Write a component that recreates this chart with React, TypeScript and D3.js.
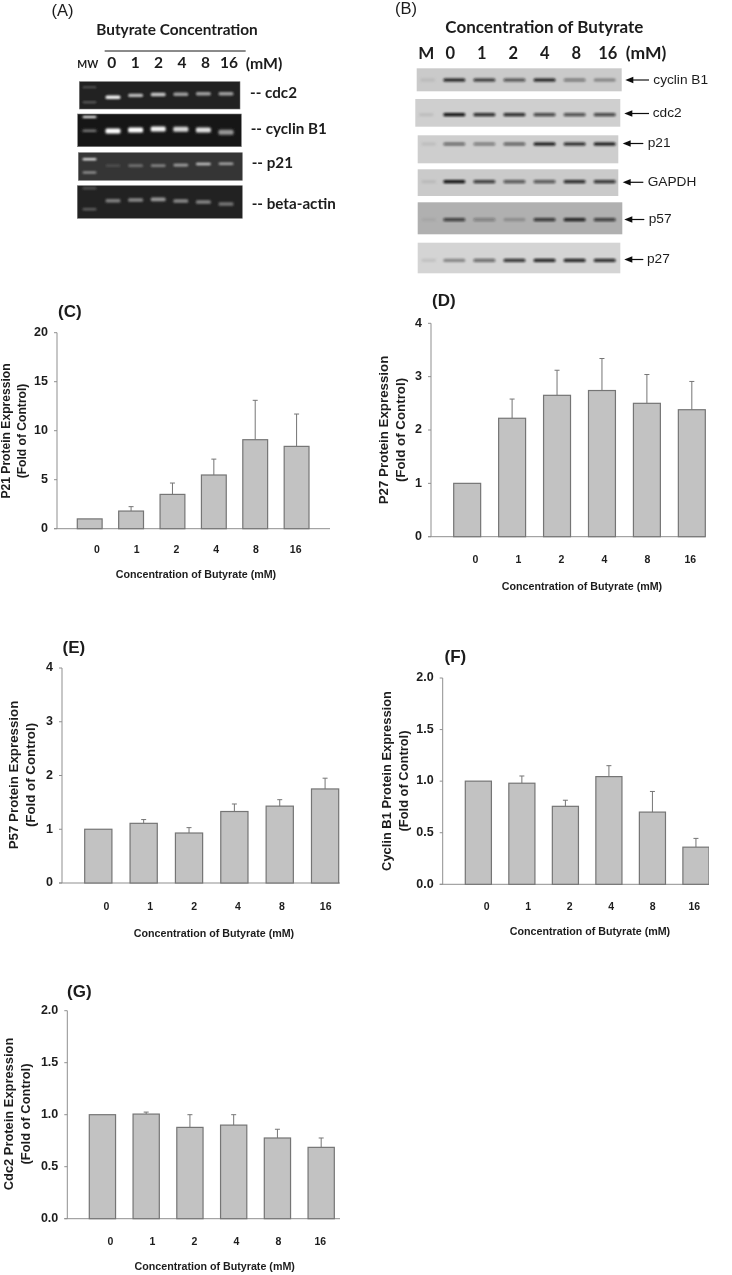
import React from "react";
import * as d3 from "d3";

// ---------- data ----------
const doses = ["0", "1", "2", "4", "8", "16"];

const p21Values = [1.0, 1.8, 3.5, 5.48, 9.08, 8.4];
const p21Upper = [1.0, 2.25, 4.66, 7.1, 13.1, 11.7];
const p27Values = [1.0, 2.22, 2.65, 2.74, 2.5, 2.38];
const p27Upper = [1.0, 2.58, 3.12, 3.34, 3.04, 2.91];
const p57Values = [1.0, 1.11, 0.93, 1.33, 1.43, 1.75];
const p57Upper = [1.0, 1.18, 1.03, 1.47, 1.55, 1.95];
const cyclinValues = [1.0, 0.98, 0.756, 1.044, 0.7, 0.36];
const cyclinUpper = [1.0, 1.05, 0.815, 1.15, 0.9, 0.445];
const cdc2Values = [1.0, 1.006, 0.878, 0.9, 0.776, 0.686];
const cdc2Upper = [1.0, 1.025, 1.0, 1.0, 0.86, 0.776];

const ticks20 = [0, 5, 10, 15, 20];
const ticks4 = [0, 1, 2, 3, 4];
const ticks2 = [0, 0.5, 1, 1.5, 2];

// gel A: band intensity per lane, and migration (0 = top of the row, 1 = bottom)
const gelCdc2 = [0.95, 0.7, 0.75, 0.55, 0.55, 0.55];
const gelCdc2Mig = [0.57, 0.5, 0.47, 0.46, 0.44, 0.44];
const gelCyclin = [1, 1, 0.95, 0.8, 0.85, 0.5];
const gelCyclinMig = [0.52, 0.49, 0.46, 0.47, 0.49, 0.56];
const gelP21 = [0.05, 0.25, 0.35, 0.5, 0.7, 0.55];
const gelP21Mig = [0.47, 0.47, 0.47, 0.45, 0.41, 0.4];
const gelActin = [0.38, 0.42, 0.5, 0.42, 0.4, 0.33];
const gelActinMig = [0.46, 0.44, 0.42, 0.47, 0.5, 0.56];

// blot B: band intensity per lane
const blotCyclin = [0.95, 0.8, 0.65, 0.95, 0.4, 0.3];
const blotCdc2 = [1, 0.85, 0.85, 0.7, 0.65, 0.7];
const blotP21 = [0.5, 0.4, 0.55, 1, 0.9, 1];
const blotGapdh = [1, 0.75, 0.6, 0.6, 0.85, 0.8];
const blotP57 = [0.7, 0.25, 0.12, 0.75, 0.9, 0.7];
const blotP27 = [0.3, 0.5, 0.8, 0.9, 0.9, 0.85];

// ---------- layout ----------
const SANS = "'Liberation Sans', Arial, sans-serif";
const LATO = "Lato, 'Open Sans', sans-serif";
const INK = "#1c1c1c";

type Panel = {
  tag: string; tagX: number; tagY: number;
  axisX: number; top: number; base: number; xEnd: number;
  bars: [number, number]; labels: [number, number];
  labelY: number;
  values: number[]; upper: number[]; ticks: number[]; max: number; fmt: string;
  yLines: string[]; yLineX: [number, number]; yMid: number; ySize: number;
  titleX: number; titleY: number;
};

const panels: Panel[] = [
  { tag: "(C)", tagX: 58, tagY: 313, axisX: 57, top: 332.7, base: 528.7, xEnd: 330, bars: [77.3, 309], labels: [97, 295.7], labelY: 550,
    values: p21Values, upper: p21Upper, ticks: ticks20, max: 20, fmt: "d",
    yLines: ["P21 Protein Expression", "(Fold of Control)"], yLineX: [6.5, 22.7], yMid: 431, ySize: 12.1, titleX: 196, titleY: 575 },
  { tag: "(D)", tagX: 432, tagY: 302, axisX: 431, top: 323.3, base: 536.7, xEnd: 705.3, bars: [453.7, 705.3], labels: [475.3, 690.3], labelY: 560.5,
    values: p27Values, upper: p27Upper, ticks: ticks4, max: 4, fmt: "d",
    yLines: ["P27 Protein Expression", "(Fold of Control)"], yLineX: [384, 401.5], yMid: 430, ySize: 13.3, titleX: 582, titleY: 586.7 },
  { tag: "(E)", tagX: 62.5, tagY: 649, axisX: 62, top: 668, base: 883, xEnd: 340, bars: [84.7, 338.7], labels: [106.3, 325.7], labelY: 907,
    values: p57Values, upper: p57Upper, ticks: ticks4, max: 4, fmt: "d",
    yLines: ["P57 Protein Expression", "(Fold of Control)"], yLineX: [14, 31.7], yMid: 775, ySize: 13.3, titleX: 214, titleY: 933.7 },
  { tag: "(F)", tagX: 444.5, tagY: 658, axisX: 442.7, top: 678, base: 884.3, xEnd: 709, bars: [465.3, 709], labels: [486.7, 694.3], labelY: 907,
    values: cyclinValues, upper: cyclinUpper, ticks: ticks2, max: 2, fmt: ".1f",
    yLines: ["Cyclin B1 Protein Expression", "(Fold of Control)"], yLineX: [387.3, 404.3], yMid: 781, ySize: 12.9, titleX: 590, titleY: 932 },
  { tag: "(G)", tagX: 67, tagY: 993, axisX: 67.3, top: 1010.7, base: 1218.7, xEnd: 340, bars: [89.3, 334.3], labels: [110.3, 320.3], labelY: 1242,
    values: cdc2Values, upper: cdc2Upper, ticks: ticks2, max: 2, fmt: ".1f",
    yLines: ["Cdc2 Protein Expression", "(Fold of Control)"], yLineX: [10, 26.7], yMid: 1114, ySize: 12.9, titleX: 214.7, titleY: 1267 },
];

function BarPanel({ p }: { p: Panel }) {
  const y = d3.scaleLinear().domain([0, p.max]).range([p.base, p.top]);
  const x = d3.scaleBand<string>().domain(doses).range(p.bars).paddingInner(0.4).paddingOuter(0);
  const lx = d3.scalePoint<string>().domain(doses).range(p.labels);
  const f = d3.format(p.fmt);
  const axisC = "#8f8f8f";
  const barC = "#757575";
  return (
    <g>
      <text x={p.tagX} y={p.tagY} fontFamily={SANS} fontWeight={700} fontSize={17} fill={INK} dominantBaseline="middle">{p.tag}</text>
      <line x1={p.axisX} x2={p.axisX} y1={p.top} y2={p.base} stroke={axisC} strokeWidth={1} />
      <line x1={p.axisX - 3} x2={p.xEnd} y1={p.base} y2={p.base} stroke={axisC} strokeWidth={1} />
      {p.ticks.map((t) => (
        <g key={t}>
          <line x1={p.axisX - 3} x2={p.axisX} y1={y(t)} y2={y(t)} stroke={axisC} />
          <text x={p.axisX - 9} y={y(t)} textAnchor="end" dominantBaseline="middle" fontFamily={SANS} fontWeight={700} fontSize={12.5} fill={INK}>{f(t)}</text>
        </g>
      ))}
      {doses.map((d, i) => {
        const cx = x(d)! + x.bandwidth() / 2;
        return (
          <g key={d}>
            {p.upper[i] > p.values[i] && (
              <g stroke={barC} strokeWidth={1}>
                <line x1={cx} x2={cx} y1={y(p.upper[i])} y2={y(p.values[i])} />
                <line x1={cx - 2.5} x2={cx + 2.5} y1={y(p.upper[i])} y2={y(p.upper[i])} />
              </g>
            )}
            <rect x={x(d)} y={y(p.values[i])} width={x.bandwidth()} height={p.base - y(p.values[i])} fill="#c2c2c2" stroke={barC} strokeWidth={1.2} />
            <text x={lx(d)} y={p.labelY} textAnchor="middle" dominantBaseline="middle" fontFamily={SANS} fontWeight={700} fontSize={10.5} fill={INK}>{d}</text>
          </g>
        );
      })}
      <text x={p.titleX} y={p.titleY} textAnchor="middle" dominantBaseline="middle" fontFamily={SANS} fontWeight={700} fontSize={10.7} fill={INK}>Concentration of Butyrate (mM)</text>
      {p.yLines.map((l, i) => (
        <text key={l} transform={`translate(${p.yLineX[i]},${p.yMid}) rotate(-90)`} textAnchor="middle" dominantBaseline="middle" fontFamily={SANS} fontWeight={700} fontSize={p.ySize} fill={INK}>{l}</text>
      ))}
    </g>
  );
}

// ---------- gel A ----------
type GelRow = { name: string; x: number; y: number; w: number; h: number; bg: string; vals: number[]; mig: number[]; bandH: number; mw: [number, number][]; labelX: number; labelY: number };
const gelRows: GelRow[] = [
  { name: "-- cdc2", x: 79.3, y: 81.7, w: 160.7, h: 27.3, bg: "#202020", vals: gelCdc2, mig: gelCdc2Mig, bandH: 3.4, mw: [[0.2, 0.25], [0.75, 0.3]], labelX: 250, labelY: 93.7 },
  { name: "-- cyclin B1", x: 77.7, y: 114, w: 163.6, h: 32.7, bg: "#181818", vals: gelCyclin, mig: gelCyclinMig, bandH: 5, mw: [[0.09, 1], [0.51, 0.5]], labelX: 250.7, labelY: 130 },
  { name: "-- p21", x: 78.3, y: 152.7, w: 164, h: 27.6, bg: "#343434", vals: gelP21, mig: gelP21Mig, bandH: 2.6, mw: [[0.24, 1], [0.72, 0.55]], labelX: 251.7, labelY: 164 },
  { name: "-- beta-actin", x: 77.3, y: 185.7, w: 165, h: 32.6, bg: "#222", vals: gelActin, mig: gelActinMig, bandH: 3.6, mw: [[0.08, 0.25], [0.72, 0.35]], labelX: 251.7, labelY: 205 },
];
const gelLane = d3.scalePoint<string>().domain(doses).range([113, 226]);
const gelLabel = d3.scalePoint<string>().domain(doses).range([111.7, 229]);

function GelA() {
  return (
    <g>
      <text x={51.5} y={12} dominantBaseline="middle" fontFamily={SANS} fontSize={16.5} fill={INK}>(A)</text>
      <text x={177} y={31} textAnchor="middle" dominantBaseline="middle" fontFamily={LATO} fontWeight={700} fontSize={15.4} fill={INK}>Butyrate Concentration</text>
      <line x1={104.7} x2={245.7} y1={51} y2={51} stroke={INK} strokeWidth={1} />
      <text x={87.7} y={65.5} textAnchor="middle" dominantBaseline="middle" fontFamily={LATO} fontWeight={700} fontSize={10.5} fill={INK}>MW</text>
      {doses.map((d) => (
        <text key={d} x={gelLabel(d)} y={64.5} textAnchor="middle" dominantBaseline="middle" fontFamily={LATO} fontWeight={700} fontSize={15.5} fill={INK}>{d}</text>
      ))}
      <text x={264} y={64.5} textAnchor="middle" dominantBaseline="middle" fontFamily={LATO} fontWeight={700} fontSize={15.8} fill={INK}>(mM)</text>
      {gelRows.map((r) => {
        const my = d3.scaleLinear().domain([0, 1]).range([r.y, r.y + r.h]);
        const op = d3.scaleLinear().domain([0, 1]).range([0.08, 1]);
        return (
          <g key={r.name}>
            <rect x={r.x} y={r.y} width={r.w} height={r.h} fill={r.bg} stroke="#777" strokeWidth={0.6} />
            <g filter="url(#gelBlur)">
              {doses.map((d, i) => (
                <rect key={d} x={gelLane(d)! - 7.5} y={my(r.mig[i]) - r.bandH / 2} width={15} height={r.bandH} rx={1.5} fill="#fff" opacity={op(r.vals[i])} />
              ))}
              {r.mw.map(([m, o], i) => (
                <rect key={i} x={82.5} y={my(m) - 1} width={14} height={2} rx={1} fill="#fff" opacity={o} />
              ))}
            </g>
            <text x={r.labelX} y={r.labelY} dominantBaseline="middle" fontFamily={LATO} fontWeight={700} fontSize={15.2} fill={INK}>{r.name}</text>
          </g>
        );
      })}
    </g>
  );
}

// ---------- blot B ----------
type BlotRow = { name: string; x: number; y: number; w: number; h: number; bg: string; vals: number[]; bandY: number; labelX: number; labelY: number; arrow: [number, number] };
const blotRows: BlotRow[] = [
  { name: "cyclin B1", x: 416.7, y: 68.3, w: 205, h: 23, bg: "#cacaca", vals: blotCyclin, bandY: 80, labelX: 653.3, labelY: 80, arrow: [625.3, 649] },
  { name: "cdc2", x: 415.3, y: 99, w: 205, h: 27.7, bg: "#cfcfcf", vals: blotCdc2, bandY: 114.7, labelX: 652.7, labelY: 113.5, arrow: [624.3, 649] },
  { name: "p21", x: 417.7, y: 135.3, w: 200.6, h: 28, bg: "#cecece", vals: blotP21, bandY: 144, labelX: 647.7, labelY: 143.5, arrow: [622.7, 643.3] },
  { name: "GAPDH", x: 417.7, y: 169.3, w: 200.6, h: 26.7, bg: "#cacaca", vals: blotGapdh, bandY: 181.7, labelX: 647.7, labelY: 182.3, arrow: [622.7, 643.3] },
  { name: "p57", x: 417.7, y: 202.3, w: 204.6, h: 32, bg: "#b0b0b0", vals: blotP57, bandY: 219.7, labelX: 648.7, labelY: 219.5, arrow: [624.3, 644.3] },
  { name: "p27", x: 417.7, y: 242.7, w: 202.6, h: 30.6, bg: "#d4d4d4", vals: blotP27, bandY: 260.3, labelX: 647, labelY: 259.5, arrow: [624.3, 643.3] },
];
const blotLane = d3.scalePoint<string>().domain(doses).range([454.3, 604.7]);
const blotLabel = d3.scalePoint<string>().domain(doses).range([450.3, 607.7]);
const arrowHead = d3.line();

function BlotB() {
  return (
    <g>
      <text x={395} y={9.5} dominantBaseline="middle" fontFamily={SANS} fontSize={16.5} fill={INK}>(B)</text>
      <text x={544.3} y={28.5} textAnchor="middle" dominantBaseline="middle" fontFamily={LATO} fontWeight={700} fontSize={17} fill={INK}>Concentration of Butyrate</text>
      <text x={426.3} y={55} textAnchor="middle" dominantBaseline="middle" fontFamily={LATO} fontWeight={700} fontSize={17} fill={INK}>M</text>
      {doses.map((d) => (
        <text key={d} x={blotLabel(d)} y={55} textAnchor="middle" dominantBaseline="middle" fontFamily={LATO} fontWeight={700} fontSize={16.5} fill={INK}>{d}</text>
      ))}
      <text x={646} y={55} textAnchor="middle" dominantBaseline="middle" fontFamily={LATO} fontWeight={700} fontSize={17.5} fill={INK}>(mM)</text>
      {blotRows.map((r) => {
        const op = d3.scaleLinear().domain([0, 1]).range([0.1, 1]);
        const ax = r.arrow[0], ay = r.labelY;
        return (
          <g key={r.name}>
            <rect x={r.x} y={r.y} width={r.w} height={r.h} fill={r.bg} />
            <g filter="url(#gelBlur)">
              {doses.map((d, i) => (
                <rect key={d} x={blotLane(d)! - 11} y={r.bandY - 1.6} width={22} height={3.2} rx={1.5} fill="#111" opacity={op(r.vals[i])} />
              ))}
              <rect x={r.x + 4} y={r.bandY - 1.5} width={14} height={3} fill="#888" opacity={0.25} />
            </g>
            <line x1={ax + 5} x2={r.arrow[1]} y1={ay} y2={ay} stroke="#111" strokeWidth={1.2} />
            <path d={arrowHead([[ax, ay], [ax + 8, ay - 3.2], [ax + 8, ay + 3.2]])! + "Z"} fill="#111" />
            <text x={r.labelX} y={r.labelY} dominantBaseline="middle" fontFamily={SANS} fontSize={13.7} fill={INK}>{r.name}</text>
          </g>
        );
      })}
    </g>
  );
}

export default function App() {
  return (
    <svg width={732} height={1275} viewBox="0 0 732 1275" style={{ position: "absolute", left: 0, top: 0, display: "block", background: "#fff" }}>
      <defs>
        <filter id="gelBlur" x="-20%" y="-50%" width="140%" height="200%">
          <feGaussianBlur stdDeviation="0.9" />
        </filter>
        <filter id="soft" x="0" y="0" width="100%" height="100%">
          <feGaussianBlur stdDeviation="0.35" />
        </filter>
      </defs>
      <g filter="url(#soft)">
        <GelA />
        <BlotB />
        {panels.map((p) => <BarPanel key={p.tag} p={p} />)}
      </g>
    </svg>
  );
}
